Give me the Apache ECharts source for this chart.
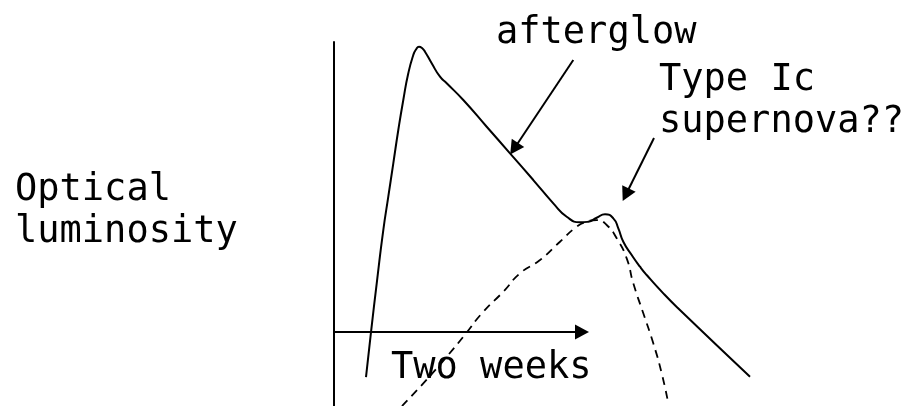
<!DOCTYPE html>
<html>
<head>
<meta charset="utf-8">
<script src="https://cdn.jsdelivr.net/npm/echarts@6/dist/echarts.min.js"></script>
<style>
  html, body { margin: 0; padding: 0; background: #fff; }
  #lightCurve { width: 905px; height: 406px; }
</style>
</head>
<body>
<div id="lightCurve"></div>
<script>
// x: days since burst (the arrow spans two weeks), y: luminosity (arbitrary units)
var afterglowDays = [1.806, 2.089, 2.427, 2.783, 3.065, 3.348, 3.630, 3.912, 4.194, 4.477, 4.629, 4.798, 4.968, 5.137, 5.515, 5.984, 6.362, 7.299, 8.620, 9.936, 11.251, 12.380, 13.137, 13.887, 14.356, 14.830, 15.299, 15.767, 16.050, 16.332, 16.806, 17.274, 17.653, 18.590, 19.527, 23.485];
var afterglowLum = [-1.552, 0.000, 1.759, 3.517, 4.666, 5.817, 6.966, 8.000, 8.921, 9.552, 9.741, 9.838, 9.793, 9.666, 9.266, 8.803, 8.576, 8.000, 7.079, 6.162, 5.241, 4.438, 3.976, 3.783, 3.803, 3.941, 4.059, 3.921, 3.576, 3.114, 2.655, 2.252, 1.966, 1.334, 0.759, -1.541];

var supernovaDays = [3.839, 5.041, 6.362, 7.299, 8.428, 9.557, 10.500, 11.629, 12.758, 13.701, 14.265, 14.830, 15.394, 15.959, 16.523, 16.896, 17.461, 18.025, 18.500, 18.872];
var supernovaLum = [-2.552, -1.769, -0.852, -0.162, 0.700, 1.390, 2.024, 2.483, 3.114, 3.631, 3.803, 3.862, 3.690, 3.231, 2.541, 1.679, 0.645, -0.390, -1.424, -2.459];

// time arrow and annotation pointers: [from, to]
var timeArrow = [[0, 0], [14, 0]];
var afterglowPointer = [[13.509, 9.379], [10.167, 6.321]];
var supernovaPointer = [[18.065, 6.690], [16.473, 4.734]];

var axisDays = [0, 24];
var axisLum = [-2.55, 10];

var lightCurve = {
  chart: null,
  zip: function (xs, ys) {
    var out = [];
    for (var i = 0; i < xs.length; i++) {
      out.push([xs[i], ys[i]]);
    }
    return out;
  },
  arrow: function (pair) {
    return [{ coord: pair[0] }, { coord: pair[1] }];
  },
  init: function () {
    var that = this;
    var myChart = echarts.init(document.getElementById('lightCurve'));
    that.chart = myChart;
    var font = '37px "DejaVu Sans Mono", monospace';

    var option = {
      backgroundColor: '#fff',
      animation: false,
      // 17.714 px per day, 29 px per luminosity unit
      grid: { left: 334, right: 145.86, top: 42, bottom: 0 },
      xAxis: {
        type: 'value',
        min: axisDays[0],
        max: axisDays[1],
        axisLine: { show: false },
        axisTick: { show: false },
        axisLabel: { show: false },
        splitLine: { show: false }
      },
      yAxis: {
        type: 'value',
        min: axisLum[0],
        max: axisLum[1],
        axisLine: {
          show: true,
          onZero: false,
          lineStyle: { color: '#000', width: 2 }
        },
        axisTick: { show: false },
        axisLabel: { show: false },
        splitLine: { show: false }
      },
      series: [
        {
          name: 'afterglow',
          type: 'line',
          data: that.zip(afterglowDays, afterglowLum),
          smooth: 0.55,
          showSymbol: false,
          clip: false,
          silent: true,
          lineStyle: { color: '#000', width: 2 }
        },
        {
          name: 'supernova',
          type: 'line',
          data: that.zip(supernovaDays, supernovaLum),
          smooth: 0.55,
          showSymbol: false,
          clip: false,
          silent: true,
          lineStyle: { color: '#000', width: 1.8, type: [8, 6] }
        },
        {
          name: 'arrows',
          type: 'line',
          data: [],
          silent: true,
          markLine: {
            silent: true,
            symbol: ['none', 'triangle'],
            symbolSize: [15, 14],
            label: { show: false },
            lineStyle: { color: '#000', width: 2, type: 'solid' },
            emphasis: { disabled: true },
            data: [
              that.arrow(timeArrow),
              that.arrow(afterglowPointer),
              that.arrow(supernovaPointer)
            ]
          }
        }
      ],
      graphic: [
        { type: 'text', left: 496, top: 12.5, silent: true,
          style: { text: 'afterglow', font: font, lineHeight: 42, fill: '#000' } },
        { type: 'text', left: 659, top: 59.5, silent: true,
          style: { text: 'Type Ic\nsupernova??', font: font, lineHeight: 42, fill: '#000' } },
        { type: 'text', left: 15, top: 169.5, silent: true,
          style: { text: 'Optical\nluminosity', font: font, lineHeight: 42, fill: '#000' } },
        { type: 'text', left: 391, top: 347.5, silent: true,
          style: { text: 'Two weeks', font: font, lineHeight: 42, fill: '#000' } }
      ]
    };
    myChart.setOption(option);
  }
};

lightCurve.init();
</script>
</body>
</html>
